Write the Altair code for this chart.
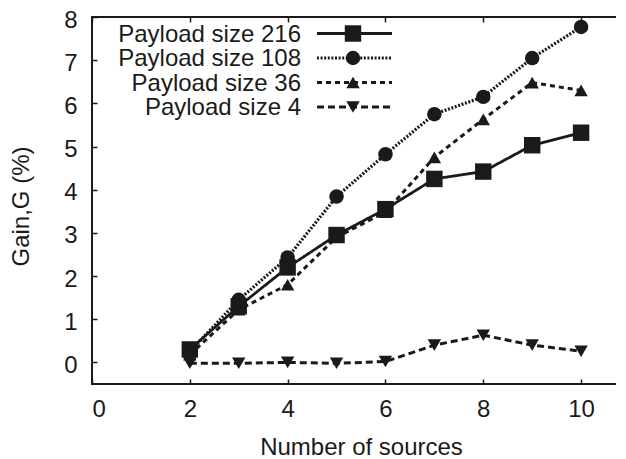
import altair as alt
import pandas as pd

sources = [2, 3, 4, 5, 6, 7, 8, 9, 10]
series_names = ["Payload size 216", "Payload size 108", "Payload size 36", "Payload size 4"]
gain_216 = [0.30, 1.30, 2.20, 2.95, 3.55, 4.25, 4.42, 5.03, 5.32]
gain_108 = [0.25, 1.45, 2.43, 3.84, 4.82, 5.75, 6.15, 7.05, 7.77]
gain_36 = [0.18, 1.22, 1.80, 2.90, 3.48, 4.75, 5.63, 6.48, 6.30]
gain_4 = [-0.02, -0.02, 0.00, -0.02, 0.02, 0.40, 0.63, 0.40, 0.26]
x_ticks = [0, 2, 4, 6, 8, 10]
y_ticks = [0, 1, 2, 3, 4, 5, 6, 7, 8]

INK = "#1a1a1a"
FONT = "Liberation Sans"
FS = 24

styles = [
    dict(dash=[1, 0], width=2.8, shape="square", size=270),
    dict(dash=[2, 1.6], width=3.2, shape="circle", size=210),
    dict(dash=[5, 4], width=3.0, shape="triangle-up", size=180),
    dict(dash=[7, 4], width=3.0, shape="triangle-down", size=180),
]
values = [gain_216, gain_108, gain_36, gain_4]

xscale = alt.Scale(domain=[0, 11], nice=False, zero=False)
yscale = alt.Scale(domain=[-0.5, 8], nice=False, zero=False)

layers = []
for name, vals, st in zip(series_names, values, styles):
    df = pd.DataFrame({"x": sources, "y": vals, "s": name})
    base = alt.Chart(df).encode(
        x=alt.X("x:Q", scale=xscale,
                axis=alt.Axis(values=x_ticks, title="Number of sources", orient="bottom",
                              domain=False, grid=False, tickSize=5, offset=-5,
                              tickColor=INK, tickWidth=1.5, labelPadding=13,
                              labelFont=FONT, labelFontSize=FS, labelColor=INK,
                              titleFont=FONT, titleFontSize=FS, titleFontWeight="normal",
                              titleColor=INK, titlePadding=14, titleX=269)),
        y=alt.Y("y:Q", scale=yscale,
                axis=alt.Axis(values=y_ticks, title="Gain,G (%)", orient="left",
                              domain=False, grid=False, tickSize=5, offset=-5,
                              tickColor=INK, tickWidth=1.5, labelPadding=15,
                              labelOffset=3,
                              labelFont=FONT, labelFontSize=FS, labelColor=INK,
                              titleFont=FONT, titleFontSize=FS, titleFontWeight="normal",
                              titleColor=INK, titlePadding=30, titleY=189)),
    )
    layers.append(base.mark_line(color=INK, strokeWidth=st["width"], strokeDash=st["dash"]))
    layers.append(base.mark_point(shape=st["shape"], size=st["size"], filled=True,
                                  color=INK, opacity=1))

# mirrored ticks on top and right
mirror_df = pd.DataFrame({"x": sources, "y": gain_216})
mirror = alt.Chart(mirror_df).mark_point(opacity=0).encode(
    x=alt.X("x:Q", scale=xscale,
            axis=alt.Axis(values=x_ticks, orient="top", labels=False, title=None,
                          domain=False, grid=False, tickSize=5, offset=-5,
                          tickColor=INK, tickWidth=1.5)),
    y=alt.Y("y:Q", scale=yscale,
            axis=alt.Axis(values=y_ticks, orient="right", labels=False, title=None,
                          domain=False, grid=False, tickSize=5, offset=-5,
                          tickColor=INK, tickWidth=1.5)),
)

# manual legend (pixel layout)
leg_layers = []
for i, (name, st) in enumerate(zip(series_names, styles)):
    ly = 16.5 + i * 24.5
    ldf = pd.DataFrame({"label": [name]})
    lc = alt.Chart(ldf)
    leg_layers.append(lc.mark_text(align="right", baseline="middle", font=FONT, fontSize=FS,
                                   color=INK, dy=1).encode(
        x=alt.value(209), y=alt.value(ly), text="label:N"))
    leg_layers.append(lc.mark_rule(color=INK, strokeWidth=st["width"], strokeDash=st["dash"]).encode(
        x=alt.value(225), x2=alt.value(300), y=alt.value(ly)))
    leg_layers.append(lc.mark_point(shape=st["shape"], size=st["size"], filled=True,
                                    color=INK, opacity=1).encode(
        x=alt.value(261), y=alt.value(ly)))

main = alt.layer(*layers)
chart = alt.layer(main, mirror, *leg_layers).resolve_axis(
    x="independent", y="independent"
).properties(
    width=538, height=367,
    autosize=alt.AutoSizeParams(type="none"),
    padding={"left": 84, "top": 9, "right": -14, "bottom": 78},
    background="white",
).configure_view(stroke=INK, strokeWidth=2)

chart.save("out.html", embed_options={"renderer": "svg", "actions": False})
